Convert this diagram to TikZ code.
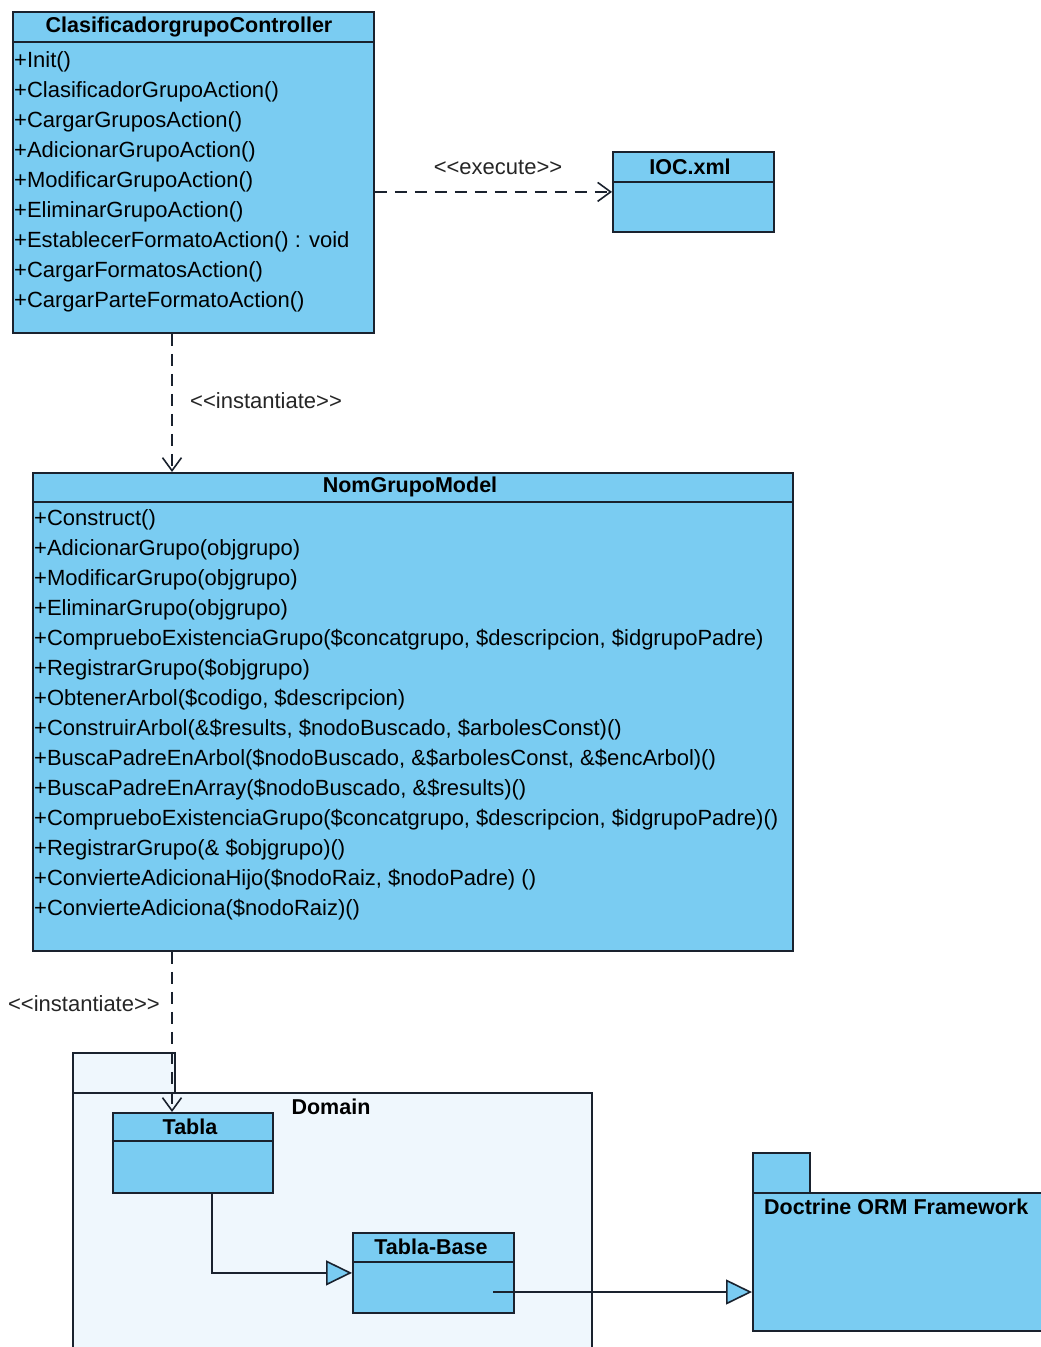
\documentclass[tikz,border=0pt]{standalone}
\usepackage{fontspec}
\setmainfont{Liberation Sans}
\usetikzlibrary{arrows.meta}
\definecolor{classblue}{RGB}{122,204,242}
\definecolor{pkgpale}{RGB}{239,247,253}
\definecolor{edgeink}{RGB}{26,34,46}
% guillemet-free stereotype brackets
\newcommand\stopen{<\kern0pt<}
\newcommand\stclose{>\kern0pt>}
\begin{document}
\begin{tikzpicture}[x=1pt,y=-1pt,
  classbox/.style={draw=edgeink, line width=1.8pt, fill=classblue, rectangle,
    inner sep=0pt, anchor=north west},
  pkgbox/.style={draw=edgeink, line width=1.8pt, rectangle, inner sep=0pt, anchor=north west},
  divider/.style={draw=edgeink, line width=1.6pt},
  ctitle/.style={font=\fontsize{21.5}{24}\selectfont\bfseries, inner sep=0pt},
  member/.style={font=\fontsize{22}{24}\selectfont, inner sep=0pt, anchor=west},
  stereo/.style={font=\fontsize{22}{24}\selectfont, text=black!85, inner sep=0pt},
  dep/.style={draw=edgeink, line width=1.6pt, dash pattern=on 12pt off 8pt,
    -{Straight Barb[length=13pt,width=19pt]}},
  gen/.style={draw=edgeink, line width=1.6pt,
    -{Triangle[length=26pt,width=25pt,fill=classblue]}},
]
\useasboundingbox[fill=white] (0,0) rectangle (1041,1347);

% ---------- ClasificadorgrupoController ----------
\node[classbox, minimum width=361pt, minimum height=321pt] (ctrl) at (12,11) {};
\draw[divider] (12,42) -- (373,42);
\node[ctitle] (ctrl-title) at (189,27) {ClasificadorgrupoController};
\foreach \m [count=\i from 0] in {
  {+Init()},
  {+ClasificadorGrupoAction()},
  {+CargarGruposAction()},
  {+AdicionarGrupoAction()},
  {+ModificarGrupoAction()},
  {+EliminarGrupoAction()},
  {+EstablecerFormatoAction() : void},
  {+CargarFormatosAction()},
  {+CargarParteFormatoAction()}}
  \node[member] (ctrl-m\i) at (14,{62+30*\i}) {\m};

% ---------- IOC.xml ----------
\node[classbox, minimum width=161pt, minimum height=80pt] (ioc) at (612,151) {};
\draw[divider] (612,182) -- (773,182);
\node[ctitle] (ioc-title) at (690,167) {IOC.xml};

% ---------- NomGrupoModel ----------
\node[classbox, minimum width=760pt, minimum height=478pt] (model) at (32,472) {};
\draw[divider] (32,502) -- (792,502);
\node[ctitle] (model-title) at (410,487) {NomGrupoModel};
\foreach \m [count=\i from 0] in {
  {+Construct()},
  {+AdicionarGrupo(objgrupo)},
  {+ModificarGrupo(objgrupo)},
  {+EliminarGrupo(objgrupo)},
  {+ComprueboExistenciaGrupo(\$concatgrupo, \$descripcion, \$idgrupoPadre)},
  {+RegistrarGrupo(\$objgrupo)},
  {+ObtenerArbol(\$codigo, \$descripcion)},
  {+ConstruirArbol(\&\$results, \$nodoBuscado, \$arbolesConst)()},
  {+BuscaPadreEnArbol(\$nodoBuscado, \&\$arbolesConst, \&\$encArbol)()},
  {+BuscaPadreEnArray(\$nodoBuscado, \&\$results)()},
  {+ComprueboExistenciaGrupo(\$concatgrupo, \$descripcion, \$idgrupoPadre)()},
  {+RegistrarGrupo(\& \$objgrupo)()},
  {+ConvierteAdicionaHijo(\$nodoRaiz, \$nodoPadre) ()},
  {+ConvierteAdiciona(\$nodoRaiz)()}}
  \node[member] (model-m\i) at (34,{520+30*\i}) {\m};

% ---------- Domain package ----------
\node[pkgbox, fill=pkgpale, minimum width=102pt, minimum height=40pt] (dom-tab) at (72,1052) {};
\node[pkgbox, fill=pkgpale, minimum width=519pt, minimum height=280pt] (dom) at (72,1092) {};
\node[ctitle] (dom-title) at (331,1107) {Domain};

\node[classbox, minimum width=160pt, minimum height=80pt] (tabla) at (112,1112) {};
\draw[divider] (112,1141) -- (272,1141);
\node[ctitle] (tabla-title) at (190,1127) {Tabla};

\node[classbox, minimum width=161pt, minimum height=80pt] (tbase) at (352,1232) {};
\draw[divider] (352,1262) -- (513,1262);
\node[ctitle] (tbase-title) at (431,1247) {Tabla-Base};

% ---------- Doctrine ORM Framework package ----------
\node[pkgbox, fill=classblue, minimum width=57pt, minimum height=40pt] (doc-tab) at (752,1152) {};
\node[pkgbox, fill=classblue, minimum width=300pt, minimum height=138pt] (doc) at (752,1192) {};
\node[ctitle, anchor=west] (doc-title) at (764,1207) {Doctrine ORM Framework};

% ---------- connectors ----------
\coordinate (lane) at (172,0);
\coordinate (genlane) at (212,0);
\coordinate (tb-in) at (493,1292);

\draw[dep] (ioc.west -| ctrl.east) -- (ioc.west);
\node[stereo] (exec-label) at (498,167) {\stopen execute\stclose};

\draw[dep] (lane |- ctrl.south) -- (lane |- model.north);
\node[stereo, anchor=west] (inst1-label) at (190,401) {\stopen instantiate\stclose};

\draw[dep] (lane |- model.south) -- (lane |- tabla.north);
\node[stereo, anchor=east] (inst2-label) at (160,1004) {\stopen instantiate\stclose};

\draw[gen] (genlane |- tabla.south) |- (tbase.west);
\draw[gen] (tb-in) -- (tb-in -| doc.west);
\end{tikzpicture}
\end{document}
